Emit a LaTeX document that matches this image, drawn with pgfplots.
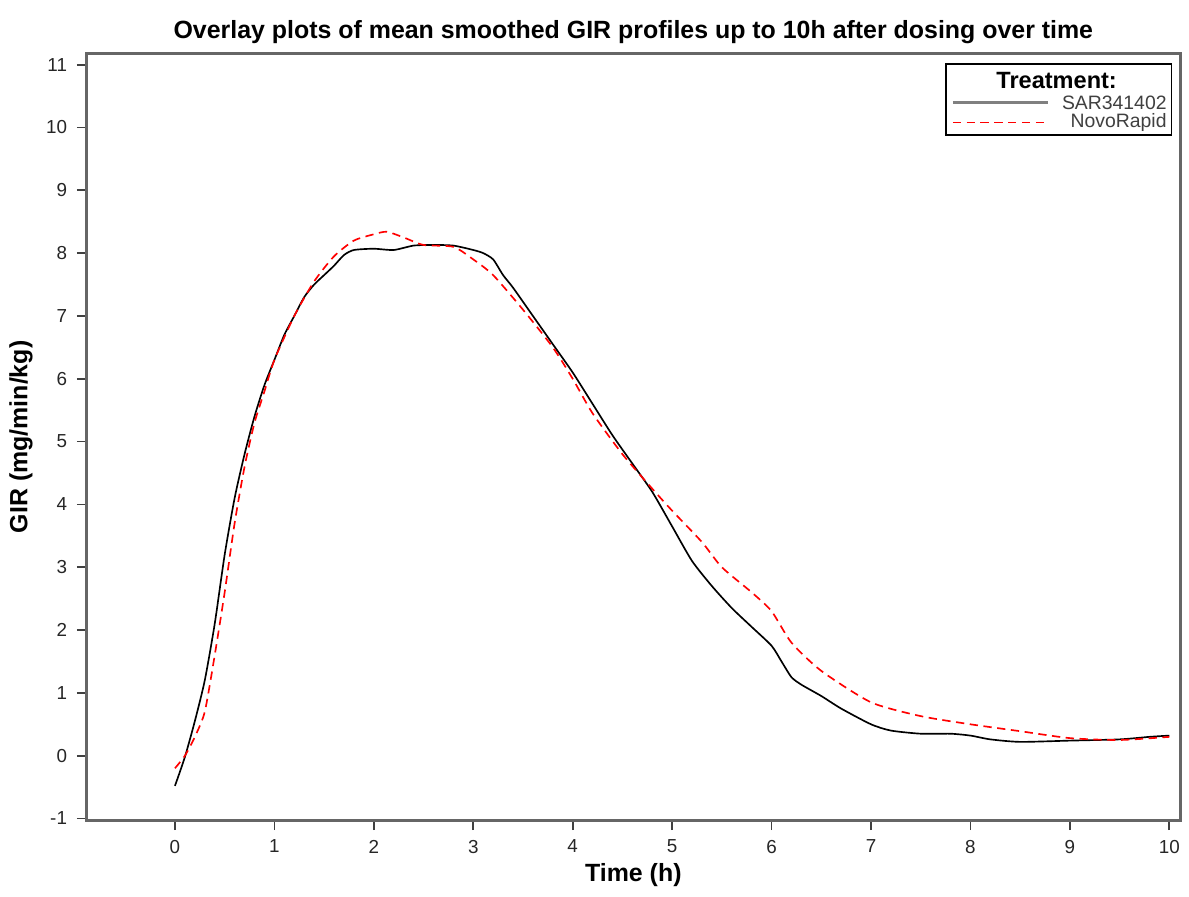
\documentclass[border=0pt]{standalone}
\usepackage{fontspec}
\setmainfont{Liberation Sans}
\usepackage{pgfplots}
\pgfplotsset{compat=1.18}

\pgfplotstableread{
x y
0.0 -0.48
0.1 -0.02
0.2 0.55
0.3 1.2
0.4 2.1
0.5 3.2
0.6 4.1
0.7 4.8
0.8 5.4
0.9 5.9
1.0 6.3
1.1 6.7
1.2 7.0
1.3 7.3
1.4 7.5
1.5 7.65
1.6 7.8
1.7 7.97
1.8 8.05
2.0 8.07
2.2 8.05
2.4 8.12
2.6 8.13
2.8 8.12
3.0 8.05
3.1 8.0
3.2 7.9
3.3 7.65
3.4 7.45
3.6 7.0
3.8 6.55
4.0 6.1
4.2 5.6
4.4 5.1
4.6 4.65
4.8 4.2
5.0 3.65
5.2 3.1
5.4 2.7
5.6 2.35
5.8 2.05
6.0 1.75
6.1 1.5
6.2 1.25
6.3 1.13
6.5 0.95
6.7 0.75
7.0 0.5
7.2 0.4
7.5 0.35
7.8 0.35
8.0 0.32
8.2 0.26
8.5 0.22
9.0 0.24
9.5 0.26
9.8 0.3
10.0 0.32
}\sartable

\pgfplotstableread{
x y
0.0 -0.2
0.1 0.0
0.2 0.3
0.3 0.7
0.4 1.6
0.5 2.6
0.6 3.7
0.7 4.6
0.8 5.3
0.9 5.8
1.0 6.3
1.2 7.0
1.4 7.55
1.6 7.95
1.8 8.2
2.0 8.3
2.13 8.34
2.3 8.25
2.5 8.13
2.8 8.1
3.0 7.9
3.2 7.65
3.5 7.1
3.8 6.5
4.0 6.0
4.2 5.45
4.5 4.8
4.8 4.25
5.0 3.9
5.3 3.4
5.5 3.0
5.8 2.6
6.0 2.3
6.2 1.8
6.5 1.35
7.0 0.85
7.5 0.63
8.0 0.5
8.5 0.39
9.0 0.28
9.5 0.25
10.0 0.3
}\novotable

\begin{document}
\begin{tikzpicture}
\begin{axis}[
  scale only axis,
  width=395pt, height=277pt,
  xmin=-0.89, xmax=10.11,
  ymin=-1.03, ymax=11.18,
  xtick={0,1,...,10},
  ytick={-1,0,...,11},
  tick align=outside,
  xtick pos=left, ytick pos=left,
  major tick length=3.5pt,
  every tick/.style={black!75, line width=0.6pt},
  axis line style={black!60, line width=1pt},
  tick label style={font=\fontsize{6.8}{7}\selectfont, black!85},
  /pgf/number format/assume math mode=true,
  title={\bfseries Overlay plots of mean smoothed GIR profiles up to 10h after dosing over time},
  title style={font=\fontsize{9}{10}\selectfont, yshift=-6pt, text height=10.5pt},
  xlabel={\bfseries Time (h)},
  ylabel={\bfseries GIR (mg/min/kg)},
  label style={font=\fontsize{9}{10}\selectfont},
  xlabel style={yshift=3pt},
  ylabel style={yshift=-2pt},
  clip=false,
]
\addplot[black, line width=0.6pt, smooth, tension=0.4] table[x=x, y=y] {\sartable};
\addplot[red, line width=0.6pt, dash pattern=on 3pt off 2pt, smooth, tension=0.4] table[x=x, y=y] {\novotable};

% legend box
\draw[black, line width=0.6pt, fill=white] (axis description cs:0.786,0.894) rectangle (axis description cs:0.992,0.986);
\node[font=\fontsize{8.5}{9}\selectfont\bfseries, inner sep=0pt] at (axis description cs:0.887,0.965) {Treatment:};
\draw[black!50, line width=1.2pt] (axis description cs:0.792,0.936) -- (axis description cs:0.879,0.936);
\node[anchor=east, inner sep=0pt, font=\fontsize{7}{7}\selectfont, black!75] at (axis description cs:0.988,0.936) {SAR341402};
\draw[red, line width=0.6pt, dash pattern=on 3pt off 2pt] (axis description cs:0.792,0.910) -- (axis description cs:0.879,0.910);
\node[anchor=east, inner sep=0pt, font=\fontsize{7}{7}\selectfont, black!75] at (axis description cs:0.988,0.910) {NovoRapid};
\end{axis}
\end{tikzpicture}
\end{document}
